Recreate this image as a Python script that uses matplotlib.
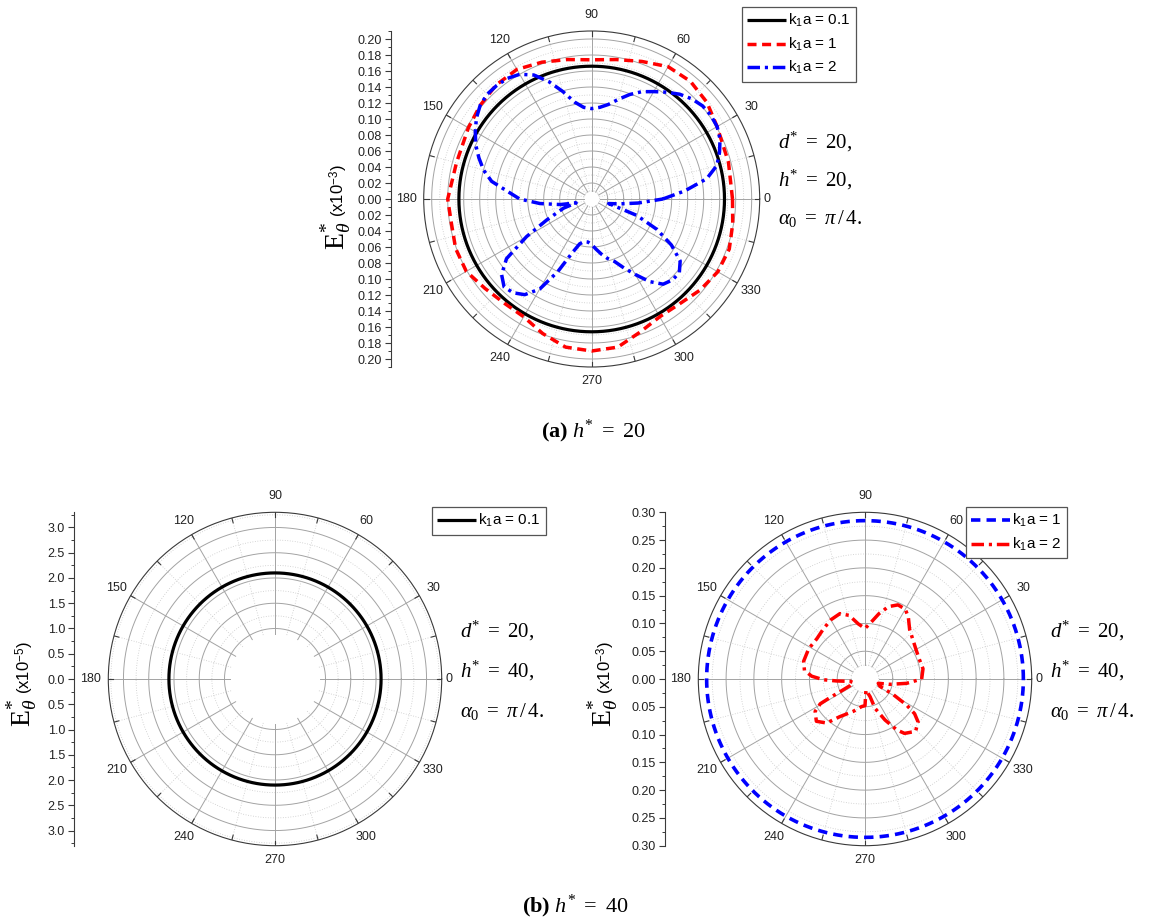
import numpy as np
import matplotlib
matplotlib.use("Agg")
import matplotlib.pyplot as plt
from matplotlib.lines import Line2D
from matplotlib.ticker import MultipleLocator, FuncFormatter

W, H = 1150, 923
plt.rcParams.update({
    "font.family": ["Liberation Sans", "DejaVu Sans"],
    "mathtext.fontset": "custom",
    "mathtext.rm": "Liberation Serif",
    "mathtext.it": "Liberation Serif:italic",
    "mathtext.bf": "Liberation Serif:bold",
    "mathtext.sf": "Liberation Sans",
})

# ---------------- data (angle in degrees, E* in the axis units) ----------------
# (a) h* = 20, units of 1e-3
h20_k01_radius = 0.166

h20_k1_theta = [0, 15, 30, 40, 50, 60, 70, 80, 90, 100, 110, 120, 130, 140, 150, 165,
                180, 190, 200, 210, 220, 230, 240, 250, 260, 270, 280, 290, 300, 310,
                320, 330, 340, 350, 360]
h20_k1_r = [0.176, 0.177, 0.181, 0.188, 0.192, 0.191, 0.183, 0.177, 0.174, 0.177, 0.182,
            0.187, 0.186, 0.182, 0.178, 0.175, 0.180, 0.178, 0.181, 0.181, 0.174, 0.170,
            0.170, 0.179, 0.188, 0.190, 0.188, 0.177, 0.170, 0.171, 0.177, 0.182, 0.183,
            0.179, 0.176]

h20_k2_theta = [0, 5, 10, 15, 20, 25, 30, 35, 40, 45, 50, 55, 60, 65, 70, 75, 80, 85, 90,
                95, 100, 105, 110, 115, 120, 125, 130, 135, 140, 145, 150, 155, 160, 165,
                170, 175, 180, 185, 190, 194, 198, 205, 210, 215, 220, 225, 230, 235, 240,
                245, 250, 255, 260, 265, 270, 275, 280, 285, 290, 295, 300, 305, 310, 315,
                320, 325, 330, 335, 340, 345, 350, 355, 360]
h20_k2_r = [0.089, 0.117, 0.146, 0.162, 0.170, 0.177, 0.181, 0.182, 0.181, 0.177, 0.171,
            0.163, 0.155, 0.148, 0.139, 0.129, 0.120, 0.115, 0.113, 0.115, 0.123, 0.139,
            0.156, 0.171, 0.180, 0.184, 0.185, 0.185, 0.182, 0.176, 0.168, 0.160, 0.150,
            0.140, 0.127, 0.105, 0.090, 0.065, 0.040, 0.020, 0.037, 0.062, 0.094, 0.130,
            0.147, 0.155, 0.153, 0.146, 0.130, 0.100, 0.072, 0.058, 0.054, 0.054, 0.057,
            0.063, 0.070, 0.077, 0.083, 0.095, 0.109, 0.126, 0.139, 0.143, 0.143, 0.135,
            0.115, 0.090, 0.060, 0.022, 0.035, 0.058, 0.089]

# (b) h* = 40, k1a = 0.1 in units of 1e-5
h40_k01_radius = 2.1

# (b) h* = 40, k1a = 1 and 2 in units of 1e-3
h40_k1_radius = 0.285

h40_k2_theta = [0, 10, 20, 30, 40, 48, 55, 60, 66, 72, 78, 85, 90, 97, 104, 111, 120, 130,
                140, 152, 164, 172, 177, 181, 184, 189, 197, 204, 207, 208, 209, 213, 221,
                229, 236, 250, 263, 270, 275, 286, 289, 296, 302, 306, 314, 321, 325, 328,
                331, 334, 342, 348, 354, 360]
h40_k2_r = [0.102, 0.106, 0.104, 0.106, 0.112, 0.120, 0.136, 0.145, 0.146, 0.137, 0.120,
            0.100, 0.091, 0.100, 0.118, 0.126, 0.123, 0.117, 0.113, 0.115, 0.115, 0.110,
            0.096, 0.075, 0.051, 0.027, 0.022, 0.030, 0.050, 0.072, 0.092, 0.107, 0.116,
            0.105, 0.082, 0.062, 0.050, 0.048, 0.020, 0.033, 0.056, 0.082, 0.108, 0.121,
            0.131, 0.123, 0.109, 0.088, 0.059, 0.030, 0.025, 0.046, 0.075, 0.102]

label_k01 = r"k$_\mathsf{1}$a = 0.1"
label_k1 = r"k$_\mathsf{1}$a = 1"
label_k2 = r"k$_\mathsf{1}$a = 2"

# ---------------- line styles ----------------
STY_SOLID = dict(color="black", lw=2.3, solid_capstyle="butt")
STY_RDASH = dict(color="red", lw=2.5, dashes=(2.6, 1.6))
STY_BDDOT = dict(color="blue", lw=2.5, dashes=(3.6, 1.4, 0.9, 1.4))
STY_BDASH = dict(color="blue", lw=2.6, dashes=(2.6, 1.7))
STY_RDDOT = dict(color="red", lw=2.5, dashes=(3.6, 1.4, 0.9, 1.4))

GRID_MAJ = "#a3a3a3"
GRID_MIN = "#c8c8c8"
AXC = "#3a3a3a"

fig = plt.figure(figsize=(W / 100, H / 100), dpi=100)


def fx(x):
    return x / W


def fy(y):
    return 1 - y / H


def polar_panel(cx, cy, rpx, rmax, r_in, rings_major, rings_minor):
    ax = fig.add_axes([fx(cx - rpx), fy(cy + rpx), 2 * rpx / W, 2 * rpx / H],
                      projection="polar")
    ax.set_ylim(0, rmax)
    ax.grid(False)
    ax.set_xticks([])
    ax.set_yticks([])
    ax.spines["polar"].set_color(AXC)
    ax.spines["polar"].set_linewidth(0.8)
    t = np.linspace(0, 2 * np.pi, 721)
    for r in rings_major:
        ax.plot(t, np.full_like(t, r), color=GRID_MAJ, lw=0.7, zorder=1)
    for r in rings_minor:
        ax.plot(t, np.full_like(t, r), color=GRID_MIN, lw=0.6, ls=(0, (1, 2)), zorder=1)
    for a in range(0, 360, 30):
        ax.plot([np.radians(a)] * 2, [r_in, rmax], color=GRID_MAJ, lw=0.7, zorder=1)
    for a in range(15, 360, 30):
        ax.plot([np.radians(a)] * 2, [r_in, rmax], color=GRID_MIN, lw=0.6,
                ls=(0, (1, 2)), zorder=1)
    for a in range(0, 360, 15):
        ax.plot([np.radians(a)] * 2, [rmax * (1 - 5.0 / rpx), rmax], color=AXC,
                lw=0.8, zorder=2)
    # angle labels around the rim
    for a in range(0, 360, 30):
        c, s = np.cos(np.radians(a)), np.sin(np.radians(a))
        if a == 0:
            d, ha, va = rpx + 4, "left", "center"
        elif a == 180:
            d, ha, va = rpx + 7, "right", "center"
        elif a == 270:
            d, ha, va = rpx + 14, "center", "center"
        else:
            d, ha, va = rpx + 16, "center", "center"
        fig.text(fx(cx + d * c), fy(cy - d * s), str(a), ha=ha, va=va, fontsize=9,
                 color="#222222")
    return ax


def radial_axis(x_px, cy, rpx, rmax, major, minor, fmt):
    ax = fig.add_axes([fx(x_px), fy(cy + rpx), 0.0001, 2 * rpx / H])
    ax.set_ylim(-rmax, rmax)
    for s in ("right", "top", "bottom"):
        ax.spines[s].set_visible(False)
    ax.spines["left"].set_color(AXC)
    ax.spines["left"].set_linewidth(0.8)
    ax.patch.set_visible(False)
    ax.set_xticks([])
    ax.yaxis.set_major_locator(MultipleLocator(major))
    ax.yaxis.set_minor_locator(MultipleLocator(minor))
    ax.yaxis.set_major_formatter(FuncFormatter(lambda v, p: fmt.format(abs(v))))
    ax.tick_params(axis="y", which="major", length=4.5, width=0.8, color=AXC,
                   labelsize=9, pad=2, labelcolor="#222222")
    ax.tick_params(axis="y", which="minor", length=2.5, width=0.7, color=AXC)
    return ax


def e_label(x_base, y_start, exp):
    fig.text(fx(x_base), fy(y_start), r"$\mathrm{E}^{*}_{\theta}$", rotation=90,
             rotation_mode="anchor", ha="left", va="baseline", fontsize=20)
    fig.text(fx(x_base - 1), fy(y_start - 33), "(x10$^{\\mathsf{" + exp + "}}$)",
             rotation=90, rotation_mode="anchor", ha="left", va="baseline",
             fontsize=12)


def params_text(x, y0, hval, gap=38):
    fig.text(fx(x), fy(y0), r"$d^{*}\ =\ 20,$", fontsize=15, va="baseline")
    fig.text(fx(x), fy(y0 + gap), r"$h^{*}\ =\ " + hval + ",$", fontsize=15,
             va="baseline")
    fig.text(fx(x), fy(y0 + 2 * gap), r"$\alpha_{0}\ =\ \pi\,/\,4.$", fontsize=15,
             va="baseline")


def legend_box(handles, labels, x, y):
    leg = fig.legend(handles, labels, loc="upper left", bbox_to_anchor=(fx(x), fy(y)),
                     bbox_transform=fig.transFigure, fontsize=11, frameon=True,
                     fancybox=False, edgecolor="#555555", framealpha=1,
                     borderaxespad=0, handlelength=2.5, handletextpad=0.15,
                     borderpad=0.35, labelspacing=0.42)
    leg.get_frame().set_linewidth(0.9)
    return leg


# ---------------- (a) h* = 20 ----------------
cxa, cya, rpa, rma = 591.7, 199, 168, 0.21
ax_a = polar_panel(cxa, cya, rpa, rma, 0.01,
                   np.arange(0.02, 0.201, 0.02), np.arange(0.01, 0.20, 0.02))
t_fine = np.radians(np.linspace(0, 360, 721))
ax_a.plot(t_fine, np.full_like(t_fine, h20_k01_radius), zorder=5, **STY_SOLID)
ax_a.plot(np.radians(h20_k1_theta), h20_k1_r, zorder=6, **STY_RDASH)
ax_a.plot(np.radians(h20_k2_theta), h20_k2_r, zorder=7, **STY_BDDOT)
radial_axis(390.7, cya, rpa, rma, 0.02, 0.01, "{:.2f}")
e_label(345, 250, "-3")
params_text(778, 148, "20")
legend_box([Line2D([], [], **STY_SOLID), Line2D([], [], **STY_RDASH),
            Line2D([], [], **STY_BDDOT)], [label_k01, label_k1, label_k2], 742, 7)
fig.text(fx(594), fy(437), r"$\mathbf{(a)}\ h^{*}\ =\ 20$", fontsize=16, ha="center",
         va="baseline")

# ---------------- (b) h* = 40, k1a = 0.1 ----------------
cxb, cyb, rpb, rmb = 275, 679, 166.7, 3.3
ax_b = polar_panel(cxb, cyb, rpb, rmb, 0.9,
                   np.arange(1.0, 3.01, 0.5), np.arange(1.25, 3.3, 0.5))
ax_b.plot(t_fine, np.full_like(t_fine, h40_k01_radius), zorder=5, **STY_SOLID)
radial_axis(74, cyb, rpb, rmb, 0.5, 0.25, "{:.1f}")
e_label(31, 727, "-5")
params_text(460, 637, "40", gap=40)
legend_box([Line2D([], [], **STY_SOLID)], [label_k01], 432, 507)

# ---------------- (b) h* = 40, k1a = 1, 2 ----------------
cxc, cyc, rpc, rmc = 865, 679, 166.7, 0.30
ax_c = polar_panel(cxc, cyc, rpc, rmc, 0.025,
                   np.arange(0.05, 0.251, 0.05), np.arange(0.025, 0.29, 0.05))
ax_c.plot(t_fine, np.full_like(t_fine, h40_k1_radius), zorder=5, **STY_BDASH)
ax_c.plot(np.radians(h40_k2_theta), h40_k2_r, zorder=6, **STY_RDDOT)
radial_axis(665, cyc, rpc, rmc, 0.05, 0.025, "{:.2f}")
e_label(612, 727, "-3")
params_text(1050, 637, "40", gap=40)
legend_box([Line2D([], [], **STY_BDASH), Line2D([], [], **STY_RDDOT)],
           [label_k1, label_k2], 966, 507)

fig.text(fx(575), fy(912), r"$\mathbf{(b)}\ h^{*}\ =\ 40$", fontsize=16, ha="center",
         va="baseline")

fig.savefig("out.png", dpi=100, facecolor="white")
